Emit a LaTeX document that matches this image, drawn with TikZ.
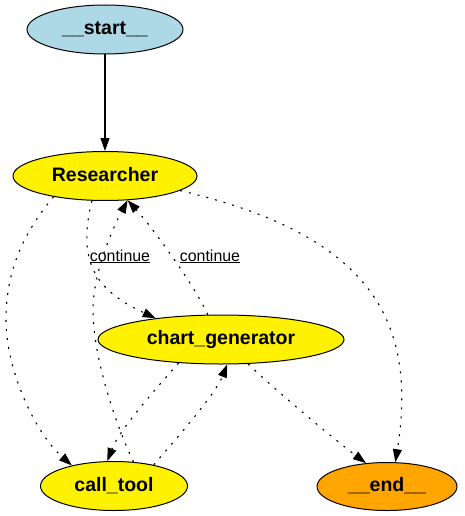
\documentclass[tikz,border=0pt]{standalone}
\usepackage{fontspec}
\setmainfont{Liberation Sans}
\usetikzlibrary{shapes.geometric,arrows.meta}
\definecolor{lightblue}{RGB}{173,216,230}
\definecolor{graphorange}{RGB}{255,165,0}
\begin{document}
\begin{tikzpicture}[
		x=1pt,y=-1pt,
		state/.style={ellipse,draw,line width=1pt,inner sep=0pt,minimum height=49pt,
			font=\fontsize{19.5}{22}\selectfont\bfseries,text height=15pt,text depth=4.4pt},
		flow/.style={line width=1.1pt,-{Triangle[length=13pt,width=9pt]}},
		cond/.style={flow,dash pattern=on 2pt off 7pt},
		lbl/.style={font=\fontsize{15.9}{18}\selectfont,anchor=base,inner sep=0pt}
	]
	\useasboundingbox (0,0) rectangle (464,516);
	\node[state,fill=lightblue,minimum width=156pt] (start) at (105,29.5) {\_\_start\_\_};
	\node[state,fill=yellow,minimum width=184pt] (researcher) at (105,176) {Researcher};
	\node[state,fill=yellow,minimum width=246pt] (chartgen) at (221,339.5) {chart\_generator};
	\node[state,fill=yellow,minimum width=147pt] (calltool) at (114,486) {call\_tool};
	\node[state,fill=graphorange,minimum width=140pt,minimum height=48pt] (finish) at (387,486.5) {\_\_end\_\_};
	\draw[flow] (start) -- (researcher);
	\draw[cond] (researcher.202) .. controls (20,237) and (6,275) .. (6,320) .. controls (6,370) and (35,433) .. (calltool.154);
	\draw[cond] (researcher.242) .. controls (77,262) and (95,290) .. (chartgen.162);
	\draw[cond] (researcher.349) .. controls (370,235) and (418,320) .. (finish.71);
	\draw[cond] (chartgen.118) .. controls (196,288) and (153,228) .. (researcher.313);
	\draw[cond] (chartgen.209) .. controls (162,382) and (120,428) .. (calltool.105);
	\draw[cond] (chartgen.318) .. controls (275,390) and (335,440) .. (finish.132);
	\draw[cond] (calltool.51) .. controls (118,430) and (93,360) .. (93,310) .. controls (93,270) and (115,224) .. (researcher.313);
	\draw[cond] (calltool.28) .. controls (175,440) and (215,395) .. (chartgen.284);
	\node[lbl] (leftlabel) at (120,261) {\underline{continue}};
	\node[lbl] (rightlabel) at (210,261) {\underline{continue}};
\end{tikzpicture}
\end{document}
